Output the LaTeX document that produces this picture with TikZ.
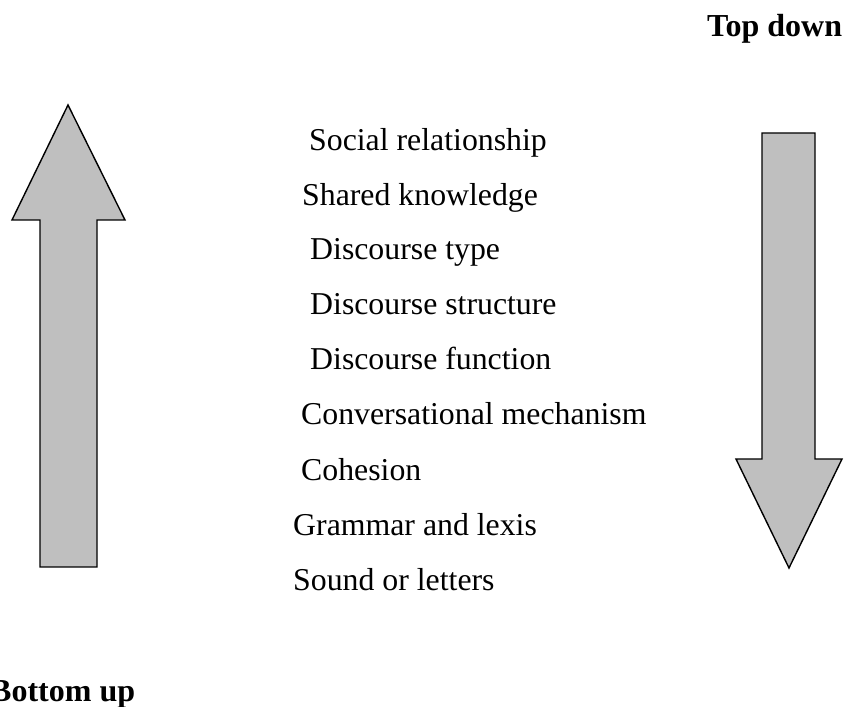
\documentclass[tikz,border=0pt]{standalone}
\usepackage{fontspec}
\setmainfont{Liberation Serif}
\begin{document}
\begin{tikzpicture}[x=1pt,y=1pt,
  bigarrow/.style={draw=black, fill=black!25, line width=1.4pt, line join=miter},
  item/.style={anchor=base west, inner sep=0pt, font=\fontsize{31.8}{36}\selectfont},
  heading/.style={anchor=base west, inner sep=0pt, font=\fontsize{32}{36}\selectfont\bfseries}]
\useasboundingbox (0,0) rectangle (847,707);
% left arrow (up)
\draw[bigarrow] (68,602) -- (125,487) -- (97,487) -- (97,140) -- (40,140) -- (40,487) -- (12,487) -- cycle;
% right arrow (down)
\draw[bigarrow] (789,139) -- (842,248) -- (815,248) -- (815,574) -- (762,574) -- (762,248) -- (736,248) -- cycle;
% headings
\node[heading] (top) at (707,670) {Top down};
\node[heading] (bottom) at (-10,5) {Bottom up};
% list
\node[item] (l1) at (309,556) {Social relationship};
\node[item] (l2) at (302,501.5) {Shared knowledge};
\node[item] (l3) at (310,447) {Discourse type};
\node[item] (l4) at (310,392) {Discourse structure};
\node[item] (l5) at (310,337) {Discourse function};
\node[item] (l6) at (301,282) {Conversational mechanism};
\node[item] (l7) at (301,226) {Cohesion};
\node[item] (l8) at (293,171) {Grammar and lexis};
\node[item] (l9) at (293,116) {Sound or letters};
\end{tikzpicture}
\end{document}
